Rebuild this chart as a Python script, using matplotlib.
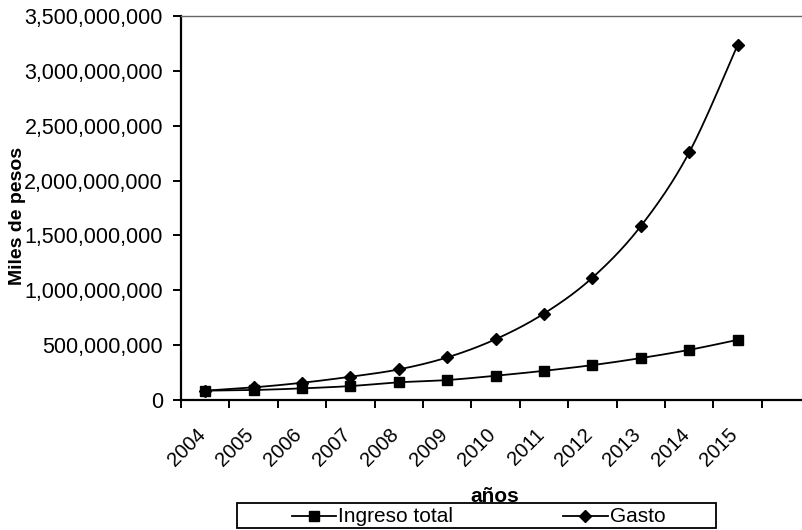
import numpy as np
import matplotlib
matplotlib.use("Agg")
import matplotlib.pyplot as plt
from matplotlib.ticker import FuncFormatter, FixedLocator
from matplotlib.lines import Line2D
from matplotlib.patches import Rectangle

plt.rcParams['font.family'] = ['Liberation Sans', 'DejaVu Sans']

years = ["2004", "2005", "2006", "2007", "2008", "2009",
         "2010", "2011", "2012", "2013", "2014", "2015"]
ingreso_total = [85e6, 91e6, 106e6, 127e6, 161e6, 182e6,
                 221e6, 266e6, 318e6, 382e6, 457e6, 548e6]
gasto = [85e6, 115e6, 157e6, 212e6, 279e6, 388e6,
         554e6, 788e6, 1115e6, 1585e6, 2257e6, 3236e6]
y_ticks = [0, 500e6, 1000e6, 1500e6, 2000e6, 2500e6, 3000e6, 3500e6]
series_names = ["Ingreso total", "Gasto"]

W, H = 803, 530


def fx(px):
    return px / W


def fy(py):
    return 1 - py / H


def smooth(xs, ys, n=30):
    """Parametric Bezier smoothing (Catmull-Rom control points)."""
    P = np.column_stack([np.asarray(xs, float), np.asarray(ys, float)])
    k = len(P)
    ext = np.vstack([P[0], P, P[-1]])
    t = np.linspace(0, 1, n, endpoint=False)[:, None]
    out = []
    for i in range(k - 1):
        p0, p3 = ext[i + 1], ext[i + 2]
        c1 = p0 + (ext[i + 2] - ext[i]) / 6
        c2 = p3 - (ext[i + 3] - ext[i + 1]) / 6
        seg = ((1 - t)**3 * p0 + 3 * (1 - t)**2 * t * c1
               + 3 * (1 - t) * t**2 * c2 + t**3 * p3)
        out.append(seg)
    out.append(P[-1][None, :])
    out = np.vstack(out)
    return out[:, 0], out[:, 1]


fig = plt.figure(figsize=(W / 100, H / 100), dpi=100)
ax = fig.add_axes([fx(181), fy(400), 621 / W, 384 / H])

xpos = np.arange(len(years)) + 0.5
styles = [('s', 7.5), ('D', 6.5)]

for vals, (mk, ms) in zip([ingreso_total, gasto], styles):
    sx, sy = smooth(xpos, vals)
    ax.plot(sx, sy, color='black', lw=1.3, zorder=2)
    ax.plot(xpos, vals, linestyle='none', marker=mk, ms=ms,
            color='black', zorder=3)

ax.set_xlim(0, 12.83)
ax.set_ylim(0, 3500e6)
ax.yaxis.set_major_locator(FixedLocator(y_ticks))
ax.yaxis.set_major_formatter(FuncFormatter(lambda v, p: f"{v:,.0f}"))

# category boundaries carry the tick marks; year labels sit at the centres
ax.set_xticks(np.arange(0, 13))
ax.set_xticklabels([])
ax.set_xticks(xpos - 0.2, minor=True)
ax.set_xticklabels(years, minor=True, rotation=45, ha='right', va='top',
                   rotation_mode='anchor', fontsize=14.5)
ax.tick_params(axis='x', which='minor', length=0, pad=18)
ax.tick_params(axis='x', which='major', direction='out', length=6,
               width=1.4, color='black')
ax.tick_params(axis='y', direction='out', length=6, width=1.4,
               labelsize=15.5, pad=7)

for side in ('left', 'bottom'):
    ax.spines[side].set_linewidth(1.6)
    ax.spines[side].set_color('black')
ax.spines['top'].set_linewidth(1.0)
ax.spines['top'].set_color('#666666')
ax.spines['right'].set_linewidth(0.8)
ax.spines['right'].set_color('#dddddd')

fig.text(fx(18), fy(216), "Miles de pesos", rotation=90,
         ha='center', va='center', fontsize=14, fontweight='bold')
fig.text(fx(495), fy(496), "años", ha='center', va='center',
         fontsize=15, fontweight='bold')

# legend box drawn in figure pixel positions
fig.patches.append(Rectangle((fx(237), fy(528)), (716 - 237) / W, 25 / H,
                             transform=fig.transFigure, fill=False,
                             edgecolor='black', lw=1.3))
legend_rows = [(292, 336, 338), (563, 608, 610)]
for (x0, x1, tx), name, (mk, ms) in zip(legend_rows, series_names, styles):
    fig.lines.append(Line2D([fx(x0), fx(x1)], [fy(516), fy(516)],
                            transform=fig.transFigure, color='black', lw=1.3))
    fig.lines.append(Line2D([fx((x0 + x1) / 2)], [fy(516)],
                            transform=fig.transFigure, color='black',
                            marker=mk, ms=ms, linestyle='none'))
    fig.text(fx(tx), fy(516), name, ha='left', va='center', fontsize=15)

fig.savefig("out.png", dpi=100, facecolor='white')
